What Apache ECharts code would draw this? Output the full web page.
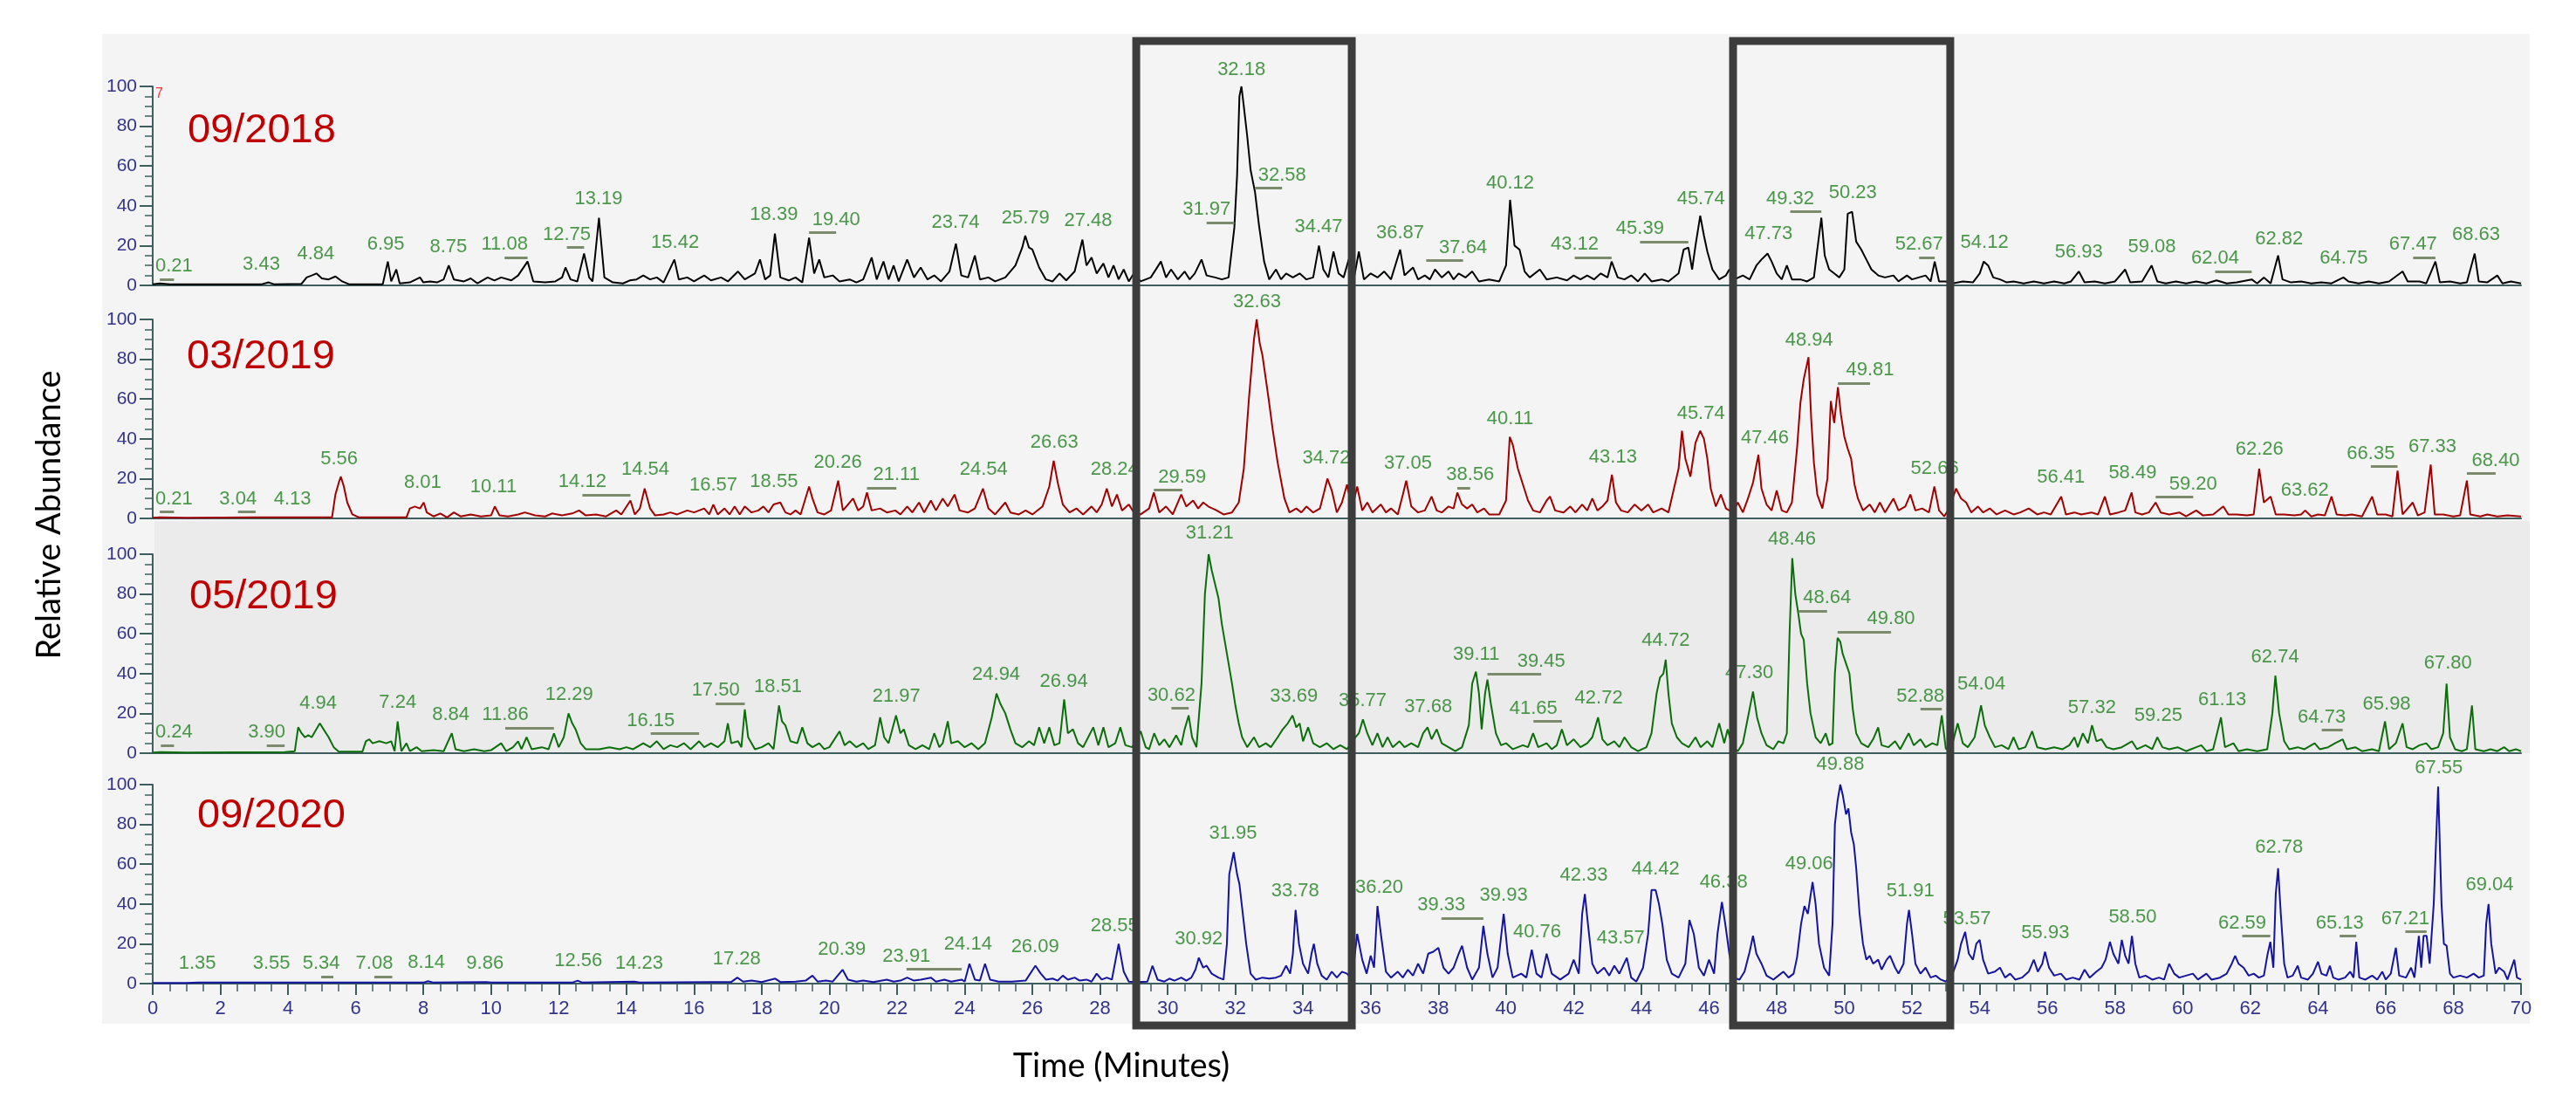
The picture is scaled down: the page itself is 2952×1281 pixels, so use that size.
<!DOCTYPE html>
<html><head><meta charset="utf-8">
<script src="https://cdn.jsdelivr.net/npm/echarts@6/dist/echarts.min.js"></script>
<style>html,body{margin:0;padding:0;background:#fff}#c{width:2952px;height:1281px}</style>
</head><body><div id="c"></div>
<script>
const panelNames = ['09/2018', '03/2019', '05/2019', '09/2020'];
const lineColors = ['#000000', '#a00000', '#0b6e0b', '#1414a0'];
const boxRanges = [[29.07, 35.44], [46.71, 53.13]];

const series1 = [
[0,0.5],[0.21,1],[0.5,0.5],[3.2,0.5],[3.43,1.5],[3.6,0.5],[4.4,0.8],[4.55,4],[4.7,5],[4.84,6],[5.0,3.5],[5.2,3],[5.4,4.5],[5.6,2],[5.8,0.6],[6.8,0.6],[6.95,12],[7.05,2],[7.2,8],[7.3,1],[7.6,1.5],[7.9,4],[8.0,1.5],[8.2,2],[8.4,1.5],[8.6,3],[8.75,10],[8.9,3],[9.2,2],[9.4,3.5],[9.6,1],[9.9,4],[10.1,2.5],[10.3,4],[10.6,2.5],[10.8,5],[11.08,12],[11.25,2],[11.6,1.5],[11.9,2],[12.1,4],[12.2,9],[12.35,3],[12.55,2],[12.75,16],[12.9,4],[13.0,2],[13.19,34],[13.35,4],[13.6,1.5],[13.9,1],[14.1,2.5],[14.3,3],[14.5,5],[14.7,3],[14.9,4],[15.1,1.5],[15.42,13],[15.55,3],[15.8,4],[16.0,2],[16.3,5],[16.5,2.5],[16.8,4],[17.0,2],[17.3,7],[17.5,3],[17.8,6],[17.95,13],[18.1,3],[18.25,5],[18.39,26],[18.55,4],[18.8,2.5],[19.0,4],[19.2,1.5],[19.40,24],[19.55,6],[19.7,13],[19.85,4],[20.1,5],[20.3,2],[20.6,3],[20.8,1.5],[21.0,3],[21.25,14],[21.4,3],[21.6,12],[21.75,3],[21.9,10],[22.05,2],[22.3,13],[22.5,4],[22.7,9],[22.9,3],[23.1,5],[23.3,2],[23.55,7],[23.74,21],[23.9,5],[24.1,4],[24.3,15],[24.45,3],[24.7,4],[24.9,2],[25.2,4],[25.5,10],[25.7,19],[25.79,25],[25.9,19],[26.0,18],[26.2,9],[26.4,3],[26.6,2],[26.8,6],[27.0,2.5],[27.25,7],[27.48,23],[27.6,10],[27.75,14],[27.9,6],[28.1,11],[28.25,4],[28.4,10],[28.55,3],[28.7,8],[28.85,2],[29.0,6],[29.2,2],[29.5,4],[29.8,12],[29.95,4],[30.1,8],[30.3,3],[30.5,7],[30.65,3],[30.8,6],[31.0,13],[31.15,5],[31.4,4],[31.6,3],[31.8,4],[31.97,29],[32.05,55],[32.12,95],[32.18,100],[32.25,90],[32.35,75],[32.45,58],[32.58,47],[32.7,30],[32.85,12],[33.0,3],[33.2,8],[33.35,3],[33.5,6],[33.7,4],[33.9,6],[34.1,3],[34.3,4],[34.47,20],[34.6,8],[34.75,4],[34.9,17],[35.05,6],[35.2,4],[35.35,13],[35.5,3],
[35.65,17],[35.8,3],[36.0,6],[36.2,4],[36.4,7],[36.6,3],[36.87,18],[37.0,5],[37.25,9],[37.4,3],[37.6,5],[37.75,3],[37.9,8],[38.1,4],[38.3,7],[38.45,3],[38.6,6],[38.8,4],[39.0,7],[39.2,2],[39.5,3],[39.8,2],[40.0,10],[40.12,43],[40.25,20],[40.4,18],[40.55,7],[40.7,4],[41.0,8],[41.2,3],[41.5,4],[41.8,2.5],[42.0,5],[42.2,3],[42.4,5],[42.6,3],[42.8,6],[43.0,4],[43.12,12],[43.3,4],[43.5,3],[43.7,5],[43.9,2],[44.1,6],[44.3,2],[44.6,3],[44.8,2],[45.1,6],[45.25,18],[45.39,19],[45.5,8],[45.6,20],[45.74,35],[45.85,25],[45.95,17],[46.1,8],[46.3,3],[46.5,5],[46.6,8],[46.75,3],[47.0,5],[47.2,3],[47.4,10],[47.55,13],[47.73,16],[47.85,12],[48.0,6],[48.15,3],[48.3,10],[48.45,3],[48.7,3],[48.9,2],[49.1,4],[49.2,18],[49.32,34],[49.42,15],[49.55,8],[49.7,6],[49.85,4],[50.0,8],[50.1,36],[50.23,37],[50.35,22],[50.5,18],[50.65,13],[50.8,8],[51.0,5],[51.2,4],[51.45,5],[51.6,2],[51.85,5],[52.0,3],[52.2,4],[52.4,5],[52.55,2],[52.67,12],[52.8,2],[53.0,2],[53.2,1],[53.5,2],[53.8,1.5],[54.0,6],[54.12,12],[54.25,10],[54.4,4],[54.6,3],[54.8,1.5],[55.0,2],[55.3,1],[55.6,2],[55.9,1],[56.2,2],[56.5,1],[56.7,2],[56.93,7],[57.1,1.5],[57.4,2],[57.7,1],[58.0,2],[58.3,8],[58.45,1.5],[58.8,2],[59.08,10],[59.25,2],[59.5,1],[59.8,2],[60.1,1],[60.4,2],[60.7,1],[61.0,2.5],[61.3,1],[61.6,1.5],[62.04,3],[62.2,1],[62.4,4],[62.6,1],[62.82,15],[62.95,3],[63.2,1.5],[63.5,2],[63.8,1],[64.1,1.5],[64.4,1],[64.75,4],[64.9,2],[65.2,1],[65.5,2],[65.8,1],[66.1,2],[66.5,7],[66.65,2],[67.0,2],[67.2,1],[67.47,12],[67.6,1.5],[67.9,2],[68.2,1],[68.4,1.5],[68.63,16],[68.75,2],[69.0,1.5],[69.3,5],[69.45,1],[69.7,2],[70,1]
];

const series2 = [
[0,0.3],[0.21,0.5],[1,0.3],[3.04,0.5],[4.13,0.5],[5.3,0.5],[5.4,12],[5.5,18],[5.56,21],[5.65,16],[5.75,8],[5.9,2],[6.1,0.5],[7.5,0.5],[7.6,5],[7.75,6],[7.9,5],[8.01,8],[8.1,3],[8.3,1],[8.5,2.5],[8.7,0.5],[8.9,3],[9.1,1],[9.4,2],[9.7,1],[10.0,1.5],[10.11,6],[10.25,1.5],[10.5,1],[10.8,2],[11.0,3],[11.3,1.5],[11.6,1],[11.8,2.5],[12.1,1.5],[12.4,2.5],[12.6,4],[12.8,1.5],[13.1,2],[13.4,1],[13.7,4],[13.85,2],[14.12,9],[14.25,2],[14.4,5],[14.54,15],[14.7,5],[14.85,1.5],[15.1,2],[15.3,3],[15.5,2],[15.8,4],[16.0,3],[16.3,5],[16.45,2],[16.57,7],[16.7,2],[16.9,5],[17.05,2],[17.2,6],[17.35,2],[17.5,6],[17.7,3],[17.9,4],[18.05,6],[18.2,3],[18.35,7],[18.55,8],[18.7,3],[18.85,2],[19.0,4],[19.15,2],[19.4,16],[19.5,10],[19.65,3],[19.85,2],[20.05,4],[20.26,19],[20.4,4],[20.55,7],[20.7,10],[20.85,4],[21.0,6],[21.11,13],[21.25,4],[21.5,5],[21.7,3],[21.95,4],[22.1,2],[22.3,6],[22.45,3],[22.65,8],[22.8,3],[23.0,9],[23.15,4],[23.35,10],[23.5,6],[23.7,12],[23.85,4],[24.1,3],[24.3,5],[24.54,15],[24.7,5],[24.9,2],[25.2,8],[25.35,3],[25.6,2],[25.8,4],[26.0,2],[26.3,6],[26.5,16],[26.63,29],[26.75,18],[26.9,7],[27.1,3],[27.3,5],[27.5,2],[27.75,6],[27.9,3],[28.05,7],[28.2,15],[28.35,6],[28.5,12],[28.65,4],[28.85,7],[29.0,3],[29.2,2],[29.45,5],[29.59,13],[29.75,3],[29.95,6],[30.15,2],[30.4,12],[30.55,6],[30.75,9],[30.9,5],[31.05,8],[31.2,6],[31.45,4],[31.65,2],[31.9,3],[32.1,8],[32.25,25],[32.4,60],[32.55,90],[32.63,100],[32.72,88],[32.8,82],[32.9,70],[33.0,58],[33.1,45],[33.25,28],[33.45,10],[33.6,3],[33.8,5],[33.95,3],[34.1,6],[34.3,3],[34.5,5],[34.62,13],[34.72,20],[34.85,14],[35.0,3],[35.15,8],[35.3,17],[35.45,5],
[35.6,16],[35.75,4],[35.9,8],[36.05,3],[36.3,7],[36.45,3],[36.6,5],[36.8,2],[36.95,12],[37.05,19],[37.2,6],[37.4,3],[37.6,4],[37.8,11],[37.95,4],[38.1,3],[38.3,6],[38.45,5],[38.56,13],[38.7,7],[38.85,5],[39.0,7],[39.15,3],[39.35,5],[39.5,2],[39.8,2],[40.0,9],[40.11,41],[40.2,37],[40.35,25],[40.5,17],[40.65,9],[40.8,4],[41.0,3],[41.2,9],[41.3,11],[41.45,4],[41.7,3],[41.9,6],[42.05,3],[42.25,7],[42.4,4],[42.55,10],[42.7,4],[42.85,6],[43.0,9],[43.13,22],[43.25,8],[43.4,4],[43.6,3],[43.8,7],[44.0,4],[44.2,7],[44.35,3],[44.6,5],[44.8,3],[44.95,14],[45.1,25],[45.2,44],[45.3,30],[45.45,21],[45.6,38],[45.74,44],[45.85,40],[45.95,30],[46.05,15],[46.2,6],[46.35,12],[46.5,5],[46.7,3],[46.85,8],[47.0,3],[47.15,10],[47.3,18],[47.46,32],[47.55,15],[47.7,7],[47.85,4],[48.0,14],[48.15,4],[48.3,3],[48.45,8],[48.6,35],[48.7,58],[48.8,70],[48.94,81],[49.02,50],[49.1,28],[49.2,12],[49.35,5],[49.5,20],[49.6,59],[49.7,48],[49.81,66],[49.9,52],[50.0,41],[50.1,35],[50.2,30],[50.3,17],[50.4,10],[50.55,4],[50.75,7],[50.9,3],[51.05,8],[51.2,3],[51.45,10],[51.6,4],[51.8,6],[51.95,12],[52.1,4],[52.3,5],[52.5,3],[52.66,16],[52.8,4],[52.95,1],[53.1,5],[53.3,15],[53.45,10],[53.6,8],[53.75,3],[53.95,6],[54.1,3],[54.3,5],[54.5,2],[54.75,4],[55.0,2],[55.2,3],[55.45,5],[55.7,2],[55.9,3],[56.1,2],[56.41,11],[56.55,2],[56.8,3],[57.0,2],[57.3,3],[57.5,2],[57.7,11],[57.85,2],[58.1,3],[58.3,4],[58.49,13],[58.6,3],[58.8,2],[59.0,3],[59.20,8],[59.35,3],[59.6,2],[59.9,3],[60.1,1],[60.4,4],[60.6,1.5],[60.9,2],[61.2,6],[61.35,2],[61.6,2],[61.9,1.5],[62.1,2],[62.26,25],[62.4,8],[62.6,11],[62.75,2],[63.0,2],[63.3,1.5],[63.5,2],[63.62,4],[63.8,1],[64.0,2],[64.2,1.5],[64.4,11],[64.55,2],[64.8,1.5],[65.0,2],[65.3,1],[65.6,11],[65.75,2],[66.0,2],[66.2,1],[66.35,24],[66.5,2],[66.8,8],[66.95,1.5],[67.15,3],[67.33,27],[67.45,2],[67.7,2],[68.0,1],[68.2,1.5],[68.40,19],[68.5,2],[68.8,1],[69.0,2],[69.3,1],[69.6,1.5],[70,1]
];

const series3 = [
[0,0.3],[0.24,0.5],[1,0.3],[3.9,0.5],[4.2,1],[4.3,13],[4.4,10],[4.5,8],[4.6,9],[4.7,8],[4.8,11],[4.94,15],[5.05,12],[5.2,8],[5.35,3],[5.5,0.8],[6.2,0.8],[6.3,6],[6.4,7],[6.5,5],[6.7,6],[6.9,5],[7.05,6],[7.15,1],[7.24,16],[7.35,1],[7.5,5],[7.6,1],[7.8,3],[7.95,1],[8.3,1.5],[8.6,1],[8.84,10],[8.95,2],[9.2,1],[9.5,2],[9.8,1],[10.0,1.5],[10.3,5],[10.45,1],[10.65,3],[10.8,6],[10.9,2],[11.05,8],[11.2,2],[11.5,3],[11.7,2],[11.86,10],[12.0,3],[12.15,8],[12.29,20],[12.4,15],[12.5,12],[12.65,5],[12.8,2],[13.2,2],[13.5,3],[13.8,2],[14.0,3],[14.2,2],[14.5,5],[14.7,3],[14.9,6],[15.1,2],[15.3,4],[15.5,3],[15.7,5],[15.9,2],[16.15,6],[16.3,3],[16.5,5],[16.7,3],[16.9,6],[17.0,15],[17.1,5],[17.3,6],[17.4,3],[17.5,22],[17.6,8],[17.8,2],[18.0,3],[18.2,5],[18.35,2],[18.51,24],[18.6,16],[18.7,14],[18.85,6],[19.05,5],[19.2,13],[19.35,5],[19.5,3],[19.7,5],[19.85,2],[20.0,3],[20.3,11],[20.45,4],[20.6,6],[20.8,3],[21.0,5],[21.15,2],[21.35,4],[21.5,18],[21.62,8],[21.75,5],[21.97,19],[22.1,10],[22.2,12],[22.35,4],[22.55,2],[22.75,4],[22.95,2],[23.1,10],[23.25,3],[23.35,5],[23.5,16],[23.6,5],[23.8,6],[24.0,3],[24.2,5],[24.4,2],[24.6,5],[24.8,18],[24.94,30],[25.05,25],[25.2,20],[25.35,12],[25.5,5],[25.7,3],[25.9,6],[26.05,4],[26.2,13],[26.35,5],[26.5,13],[26.65,4],[26.8,5],[26.94,27],[27.05,10],[27.2,12],[27.35,5],[27.5,3],[27.65,8],[27.8,13],[27.95,4],[28.1,13],[28.25,3],[28.45,5],[28.6,13],[28.75,4],[28.95,3],[29.2,11],[29.35,3],[29.45,2],[29.6,10],[29.75,4],[29.9,7],[30.05,3],[30.25,9],[30.4,4],[30.5,12],[30.62,19],[30.72,8],[30.85,3],[31.0,35],[31.1,80],[31.21,100],[31.3,92],[31.4,85],[31.5,78],[31.6,65],[31.7,55],[31.8,45],[31.9,35],[32.0,24],[32.1,15],[32.2,8],[32.35,3],[32.55,8],[32.7,3],[32.9,5],[33.05,3],[33.25,8],[33.4,12],[33.55,15],[33.69,19],[33.8,13],[33.9,15],[34.0,6],[34.15,13],[34.3,5],[34.5,3],[34.7,5],[34.9,2],[35.1,4],[35.3,2],[35.5,7],
[35.65,10],[35.77,17],[35.9,10],[36.05,4],[36.2,10],[36.35,3],[36.5,8],[36.65,3],[36.85,6],[37.0,3],[37.2,5],[37.4,3],[37.55,10],[37.68,13],[37.8,7],[37.95,12],[38.1,5],[38.3,3],[38.5,1],[38.7,3],[38.9,14],[39.0,35],[39.11,41],[39.2,30],[39.28,12],[39.38,30],[39.45,37],[39.55,25],[39.7,10],[39.85,4],[40.0,5],[40.2,2],[40.5,4],[40.65,3],[40.8,10],[40.95,3],[41.2,5],[41.35,2],[41.5,4],[41.65,12],[41.8,4],[42.0,7],[42.2,3],[42.4,5],[42.55,8],[42.72,18],[42.85,7],[43.0,4],[43.2,6],[43.35,3],[43.5,8],[43.7,3],[43.9,1],[44.15,3],[44.3,10],[44.45,30],[44.55,38],[44.65,40],[44.72,47],[44.8,30],[44.9,15],[45.05,8],[45.2,5],[45.4,3],[45.6,8],[45.75,3],[45.95,6],[46.1,3],[46.3,15],[46.45,5],[46.55,12],[46.7,3],[46.85,1],[47.0,5],[47.15,18],[47.3,31],[47.42,18],[47.55,10],[47.7,4],[47.9,2],[48.05,6],[48.2,5],[48.3,10],[48.38,60],[48.46,98],[48.55,80],[48.64,70],[48.72,60],[48.8,57],[48.9,35],[49.0,20],[49.15,8],[49.3,5],[49.45,10],[49.55,4],[49.65,5],[49.72,40],[49.80,58],[49.88,56],[49.95,50],[50.05,45],[50.15,40],[50.25,22],[50.35,10],[50.5,5],[50.7,3],[50.85,7],[51.0,13],[51.1,4],[51.3,3],[51.5,6],[51.65,2],[51.9,10],[52.05,4],[52.25,7],[52.4,3],[52.6,5],[52.75,4],[52.88,19],[53.0,2],[53.2,5],[53.35,15],[53.5,5],[53.65,3],[53.85,8],[54.04,24],[54.15,14],[54.3,8],[54.45,3],[54.65,4],[54.85,2],[55.0,8],[55.15,2],[55.35,3],[55.55,11],[55.7,3],[55.95,2],[56.2,3],[56.45,2],[56.65,4],[56.8,8],[56.9,3],[57.05,10],[57.2,5],[57.32,14],[57.45,6],[57.6,7],[57.75,3],[57.95,2],[58.2,3],[58.5,6],[58.65,2],[58.9,4],[59.1,2],[59.25,8],[59.4,3],[59.6,2],[59.85,3],[60.1,1],[60.4,3],[60.55,4],[60.7,1],[60.9,2],[61.13,18],[61.25,3],[61.5,5],[61.65,1],[61.9,2],[62.2,1],[62.5,2],[62.65,20],[62.74,39],[62.85,20],[63.0,6],[63.15,2],[63.4,3],[63.6,2],[63.9,5],[64.05,2],[64.3,3],[64.5,5],[64.73,7],[64.85,2],[65.1,3],[65.3,1],[65.6,2],[65.8,1],[65.98,16],[66.1,2],[66.3,5],[66.5,15],[66.62,3],[66.8,2],[67.0,4],[67.2,5],[67.35,2],[67.55,3],[67.7,10],[67.80,35],[67.9,8],[68.05,2],[68.25,1],[68.4,2],[68.55,24],[68.65,2],[68.9,1],[69.1,2],[69.3,1],[69.5,3],[69.65,1],[69.85,2],[70,1]
];

const series4 = [
[0,0.3],[1,0.3],[1.35,0.5],[3.55,0.5],[5.34,0.5],[7.08,0.5],[8.0,0.5],[8.14,1.2],[8.3,0.5],[9.86,0.8],[10,0.5],[12.4,0.5],[12.56,1.5],[12.7,0.5],[14.23,1],[14.4,0.5],[16.5,0.8],[17.1,0.8],[17.28,3],[17.45,1],[17.7,1.5],[18.0,0.8],[18.4,2.5],[18.55,0.8],[19.0,1],[19.3,1.5],[19.5,4],[19.65,1],[19.9,1.5],[20.1,1],[20.39,7],[20.55,2],[20.8,1],[21.0,1.5],[21.3,0.8],[21.7,2],[21.9,1],[22.1,1.5],[22.3,3],[22.5,1.5],[22.7,2],[23.0,3],[23.15,1],[23.4,2],[23.6,1],[23.91,2],[24.0,1],[24.14,10],[24.3,2],[24.45,1.5],[24.6,10],[24.75,2],[25.0,1],[25.4,1],[25.8,1.5],[26.09,9],[26.25,5],[26.4,2],[26.6,2.5],[26.75,1.5],[26.9,4],[27.05,2],[27.25,3],[27.4,1.5],[27.6,2],[27.75,1],[27.9,5],[28.05,2],[28.2,3],[28.35,2],[28.55,20],[28.7,6],[28.85,1],[29.1,0.8],[29.4,1],[29.55,9],[29.7,2],[29.9,1],[30.05,2.5],[30.2,1.5],[30.4,3],[30.55,1.5],[30.7,3],[30.82,7],[30.92,13],[31.05,8],[31.15,9],[31.3,5],[31.5,3],[31.65,2],[31.75,20],[31.82,55],[31.95,66],[32.05,55],[32.12,50],[32.22,35],[32.32,20],[32.45,5],[32.6,2],[32.8,3],[33.0,2.5],[33.2,3],[33.35,4],[33.5,9],[33.62,5],[33.7,15],[33.78,37],[33.88,20],[34.0,10],[34.15,5],[34.25,15],[34.32,20],[34.42,10],[34.55,4],[34.7,2],[34.85,6],[35.0,3],[35.15,6],[35.3,5],[35.45,2],
[35.6,25],[35.75,12],[35.88,5],[36.0,14],[36.1,8],[36.20,39],[36.3,25],[36.45,6],[36.6,3],[36.8,6],[36.95,3],[37.1,7],[37.25,4],[37.4,10],[37.55,5],[37.7,15],[37.85,16],[38.0,18],[38.15,8],[38.3,5],[38.45,8],[38.6,15],[38.7,19],[38.85,8],[39.0,2],[39.2,8],[39.33,29],[39.45,15],[39.6,3],[39.75,8],[39.93,35],[40.05,15],[40.2,3],[40.45,5],[40.6,3],[40.76,17],[40.9,5],[41.05,3],[41.2,15],[41.35,5],[41.6,2],[41.85,5],[42.0,12],[42.15,5],[42.25,35],[42.33,45],[42.42,30],[42.55,10],[42.7,5],[42.9,8],[43.05,4],[43.2,9],[43.35,5],[43.57,13],[43.7,3],[43.85,1],[44.05,8],[44.2,25],[44.3,47],[44.42,47],[44.52,40],[44.62,30],[44.75,12],[44.9,5],[45.1,3],[45.3,10],[45.42,32],[45.55,25],[45.7,8],[45.85,4],[46.0,12],[46.15,5],[46.25,25],[46.38,41],[46.48,30],[46.6,15],[46.72,3],[46.9,2],[47.05,6],[47.2,16],[47.3,24],[47.4,15],[47.55,10],[47.7,4],[47.9,2],[48.05,4],[48.2,6],[48.35,3],[48.5,5],[48.6,13],[48.72,30],[48.82,39],[48.92,35],[49.06,51],[49.15,40],[49.25,20],[49.4,8],[49.55,4],[49.65,30],[49.72,80],[49.80,92],[49.88,100],[49.95,95],[50.05,85],[50.12,88],[50.2,76],[50.28,70],[50.35,58],[50.45,35],[50.55,20],[50.65,12],[50.75,14],[50.85,10],[51.0,12],[51.1,7],[51.25,12],[51.35,14],[51.5,8],[51.6,5],[51.75,10],[51.85,30],[51.91,37],[52.0,25],[52.1,10],[52.25,5],[52.4,8],[52.55,3],[52.7,4],[52.85,2],[53.0,1],[53.2,5],[53.35,12],[53.45,20],[53.57,26],[53.68,15],[53.8,12],[53.9,20],[54.0,22],[54.1,12],[54.25,5],[54.45,6],[54.6,8],[54.75,3],[54.9,5],[55.05,2],[55.25,3],[55.45,6],[55.6,12],[55.72,6],[55.85,10],[55.93,16],[56.05,8],[56.2,4],[56.4,5],[56.55,2],[56.75,3],[56.95,2],[57.1,7],[57.25,3],[57.45,6],[57.6,8],[57.72,12],[57.85,21],[57.95,15],[58.1,10],[58.2,22],[58.3,14],[58.4,10],[58.50,24],[58.6,10],[58.72,3],[58.9,4],[59.1,2],[59.3,3],[59.45,2],[59.6,10],[59.75,5],[59.9,3],[60.1,4],[60.3,5],[60.45,2],[60.7,5],[60.85,2],[61.1,3],[61.3,5],[61.45,10],[61.55,14],[61.65,10],[61.8,8],[61.95,4],[62.1,5],[62.25,3],[62.4,4],[62.5,14],[62.59,21],[62.68,8],[62.75,45],[62.82,58],[62.9,35],[63.0,10],[63.1,3],[63.25,4],[63.4,9],[63.5,3],[63.7,2],[63.85,5],[64.0,11],[64.1,5],[64.25,4],[64.35,9],[64.45,3],[64.6,2],[64.8,3],[64.95,6],[65.05,3],[65.13,21],[65.22,3],[65.4,2],[65.6,4],[65.75,2],[65.9,6],[66.0,2],[66.15,5],[66.3,18],[66.4,4],[66.6,3],[66.75,8],[66.85,3],[66.98,24],[67.05,8],[67.12,24],[67.21,24],[67.3,10],[67.42,40],[67.55,99],[67.65,40],[67.72,20],[67.8,19],[67.9,5],[68.0,3],[68.2,4],[68.4,3],[68.6,5],[68.75,3],[68.9,4],[68.97,30],[69.04,40],[69.12,20],[69.25,5],[69.35,8],[69.5,6],[69.6,2],[69.8,12],[69.88,3],[70,2]
];

// peak labels: [text, label centre time, label base abundance]
const labels1 = [
['0.21',0.63,4],['3.43',3.21,5],['4.84',4.82,10.5],['6.95',6.89,15],['8.75',8.74,14],['11.08',10.4,15],['12.75',12.24,20],['13.19',13.18,38],['15.42',15.44,16],['18.39',18.36,30],['19.40',20.2,27.5],['23.74',23.73,26],['25.79',25.8,28.5],['27.48',27.65,27],['31.97',31.15,32.5],['32.18',32.18,103],['32.58',33.38,50],['34.47',34.46,24],
['36.87',36.87,21],['37.64',38.73,13.5],['40.12',40.12,46],['43.12',42.03,15],['45.39',43.96,23],['45.74',45.76,38],['47.73',47.76,20.5],['49.32',48.4,38],['50.23',50.25,41],['52.67',52.21,15],['54.12',54.14,16],['56.93',56.93,11.4],['59.08',59.09,14],['62.04',60.96,8],['62.82',62.85,18],['64.75',64.76,8],['67.47',66.81,15],['68.63',68.67,20]
];
const labels2 = [
['0.21',0.63,4.4],['3.04',2.52,4.4],['4.13',4.13,4.4],['5.56',5.51,24.5],['8.01',7.98,12.5],['10.11',10.07,10.3],['14.12',12.7,12.8],['14.54',14.56,19],['16.57',16.57,11.3],['18.55',18.36,12.8],['20.26',20.25,22.8],['21.11',21.98,16.4],['24.54',24.56,19],['26.63',26.65,32.6],['28.24',28.43,19],['29.59',30.43,15.3],['32.63',32.64,103.4],['34.72',34.69,24.8],
['37.05',37.1,22.3],['38.56',38.94,16.4],['40.11',40.12,44.6],['43.13',43.16,25.3],['45.74',45.76,47.3],['47.46',47.65,34.8],['48.94',48.96,84],['49.81',50.76,69],['52.66',52.67,19.4],['56.41',56.4,15],['58.49',58.52,17.2],['59.20',60.31,11.7],['62.26',62.27,29],['63.62',63.61,8.4],['66.35',65.56,27],['67.33',67.38,30.4],['68.40',69.25,23.5]
];
const labels3 = [
['0.24',0.63,4.9],['3.90',3.37,4.9],['4.94',4.89,19.6],['7.24',7.24,20.2],['8.84',8.81,13.7],['11.86',10.42,13.7],['12.29',12.31,24],['16.15',14.72,10.8],['17.50',16.64,26],['18.51',18.48,28],['21.97',21.98,23.2],['24.94',24.93,34],['26.94',26.93,30.3],['30.62',30.11,23.6],['31.21',31.24,104.9],['33.69',33.73,23.2],['35.77',35.76,20.7],
['37.68',37.7,17.7],['39.11',39.12,44.3],['39.45',41.04,40.6],['41.65',40.81,17],['42.72',42.74,22.2],['44.72',44.72,51],['47.30',47.19,34.7],['48.46',48.45,102],['48.64',49.49,72.4],['49.80',51.38,62],['52.88',52.25,23.2],['54.04',54.05,29],['57.32',57.32,17.3],['59.25',59.28,13.3],['61.13',61.17,21.4],['62.74',62.73,42.8],['64.73',64.11,12.6],['65.98',66.03,19.2],['67.80',67.84,39.9]
];
const labels4 = [
['1.35',1.32,4.5],['3.55',3.51,4.5],['5.34',4.98,4.5],['7.08',6.55,4.5],['8.14',8.09,5.2],['9.86',9.82,4.5],['12.56',12.58,6],['14.23',14.38,4.5],['17.28',17.26,6.8],['20.39',20.37,11.6],['23.91',22.28,8.3],['24.14',24.1,14.3],['26.09',26.08,13.1],['28.55',28.43,23.5],['30.92',30.92,16.8],['31.95',31.93,70],['33.78',33.77,41],
['36.20',36.25,42.6],['39.33',38.09,34],['39.93',39.93,38.7],['40.76',40.92,20.5],['42.33',42.3,48.8],['43.57',43.39,17.3],['44.42',44.42,52],['46.38',46.43,45.5],['49.06',48.96,54.8],['49.88',49.88,104.6],['51.91',51.95,41],['53.57',53.62,27.2],['55.93',55.94,20.2],['58.50',58.52,28],['62.59',61.76,25],['62.78',62.85,63],['65.13',64.64,25],['67.21',66.58,27.2],['67.55',67.57,103],['69.04',69.07,44.3]
];

const allSeries = [series1, series2, series3, series4];
const allLabels = [labels1, labels2, labels3, labels4];

const panelTops = [99, 366, 635, 899];
const panelH = 228;
const gridLeft = 175, gridW = 2714;
const axisCol = '#3e5e5e';
const tickLabelCol = '#33338a';
const peakLabelCol = '#1f801f';
const font = '"Liberation Sans", Arial, sans-serif';

const grids = [], xAxes = [], yAxes = [], seriesList = [];
for (let i = 0; i < 4; i++) {
  grids.push({left: gridLeft, top: panelTops[i], width: gridW, height: panelH});
  const bottom = i === 3;
  xAxes.push({
    type: 'value', gridIndex: i, min: 0, max: 70, interval: 2,
    axisLine: {show: true, onZero: false, lineStyle: {color: axisCol, width: 2}},
    axisTick: {show: bottom, length: 13, lineStyle: {color: axisCol, width: 2}},
    minorTick: {show: bottom, splitNumber: 4, length: 9, lineStyle: {color: axisCol, width: 1.5}},
    axisLabel: {show: bottom, color: tickLabelCol, fontSize: 22, fontFamily: font, margin: 18},
    splitLine: {show: false}
  });
  yAxes.push({
    type: 'value', gridIndex: i, min: 0, max: 100, interval: 20,
    axisLine: {show: true, lineStyle: {color: axisCol, width: 2}},
    axisTick: {show: true, length: 15, lineStyle: {color: axisCol, width: 2}},
    minorTick: {show: true, splitNumber: 4, length: 9, lineStyle: {color: axisCol, width: 1.5}},
    axisLabel: {color: tickLabelCol, fontSize: 21, fontFamily: font, margin: 18},
    splitLine: {show: false}
  });
  const leaders = allLabels[i]
    .filter(l => Math.abs(l[1] - parseFloat(l[0])) > 0.3)
    .map(l => [{coord: [l[1], l[2] - 1]}, {coord: [parseFloat(l[0]), l[2] - 1]}]);
  seriesList.push({
    type: 'line', xAxisIndex: i, yAxisIndex: i, data: allSeries[i],
    symbol: 'none', showSymbol: false, animation: false,
    lineStyle: {color: lineColors[i], width: 2},
    markLine: {
      silent: true, symbol: ['none', 'none'], animation: false,
      label: {show: false},
      lineStyle: {color: '#7c8b6b', width: 3, type: 'solid'},
      data: leaders
    }
  });
  seriesList.push({
    type: 'scatter', xAxisIndex: i, yAxisIndex: i, silent: true, animation: false, clip: false,
    symbolSize: 1, itemStyle: {color: 'rgba(0,0,0,0)'},
    data: allLabels[i].map(l => [l[1], l[2], l[0]]),
    label: {show: true, position: 'top', distance: 1, formatter: p => p.data[2],
      color: peakLabelCol, fontSize: 22, fontFamily: font}
  });
}
// overlay for highlight boxes
grids.push({left: gridLeft, top: 47, width: gridW, height: 1128});
xAxes.push({type: 'value', gridIndex: 4, min: 0, max: 70, show: false});
yAxes.push({type: 'value', gridIndex: 4, min: 0, max: 1, show: false});
seriesList.push({
  type: 'line', xAxisIndex: 4, yAxisIndex: 4, data: [[0, 0]], symbol: 'none',
  lineStyle: {opacity: 0}, silent: true, animation: false, z: 20,
  markArea: {
    silent: true, z: 20, animation: false,
    itemStyle: {color: 'rgba(0,0,0,0)', borderColor: '#3c3c3c', borderWidth: 9},
    data: boxRanges.map(b => [{xAxis: b[0], yAxis: 0}, {xAxis: b[1], yAxis: 1}])
  }
});

const titleY = [150, 409, 684, 935];
const titleX = [215, 214, 217, 226];
const graphics = [
  {type: 'rect', silent: true, z: -10, shape: {x: 117, y: 39, width: 2782, height: 1134}, style: {fill: '#f4f4f4'}},
  {type: 'rect', silent: true, z: -9, shape: {x: 177, y: 597, width: 2722, height: 266}, style: {fill: '#ebebeb'}},
  {type: 'text', silent: true, x: 178, y: 100, style: {text: '7', fill: '#ff3030', fontSize: 16, fontFamily: font}},
  {type: 'text', silent: true, x: 1285, y: 1222, style: {text: 'Time (Minutes)', fill: '#000', fontSize: 38, fontFamily: 'Lato, "Open Sans", sans-serif', align: 'center', verticalAlign: 'middle'}},
  {type: 'text', silent: true, x: 57, y: 590, rotation: Math.PI / 2, style: {text: 'Relative Abundance', fill: '#000', fontSize: 38, fontFamily: 'Lato, "Open Sans", sans-serif', align: 'center', verticalAlign: 'middle'}}
];
panelNames.forEach((n, i) => graphics.push({
  type: 'text', silent: true, x: titleX[i], y: titleY[i],
  style: {text: n, fill: '#c00000', fontSize: 47, fontFamily: font, align: 'left', verticalAlign: 'middle'}
}));

const chart = echarts.init(document.getElementById('c'), null, {renderer: 'canvas'});
chart.setOption({
  animation: false,
  backgroundColor: '#ffffff',
  grid: grids, xAxis: xAxes, yAxis: yAxes, series: seriesList,
  graphic: graphics
});
</script></body></html>
